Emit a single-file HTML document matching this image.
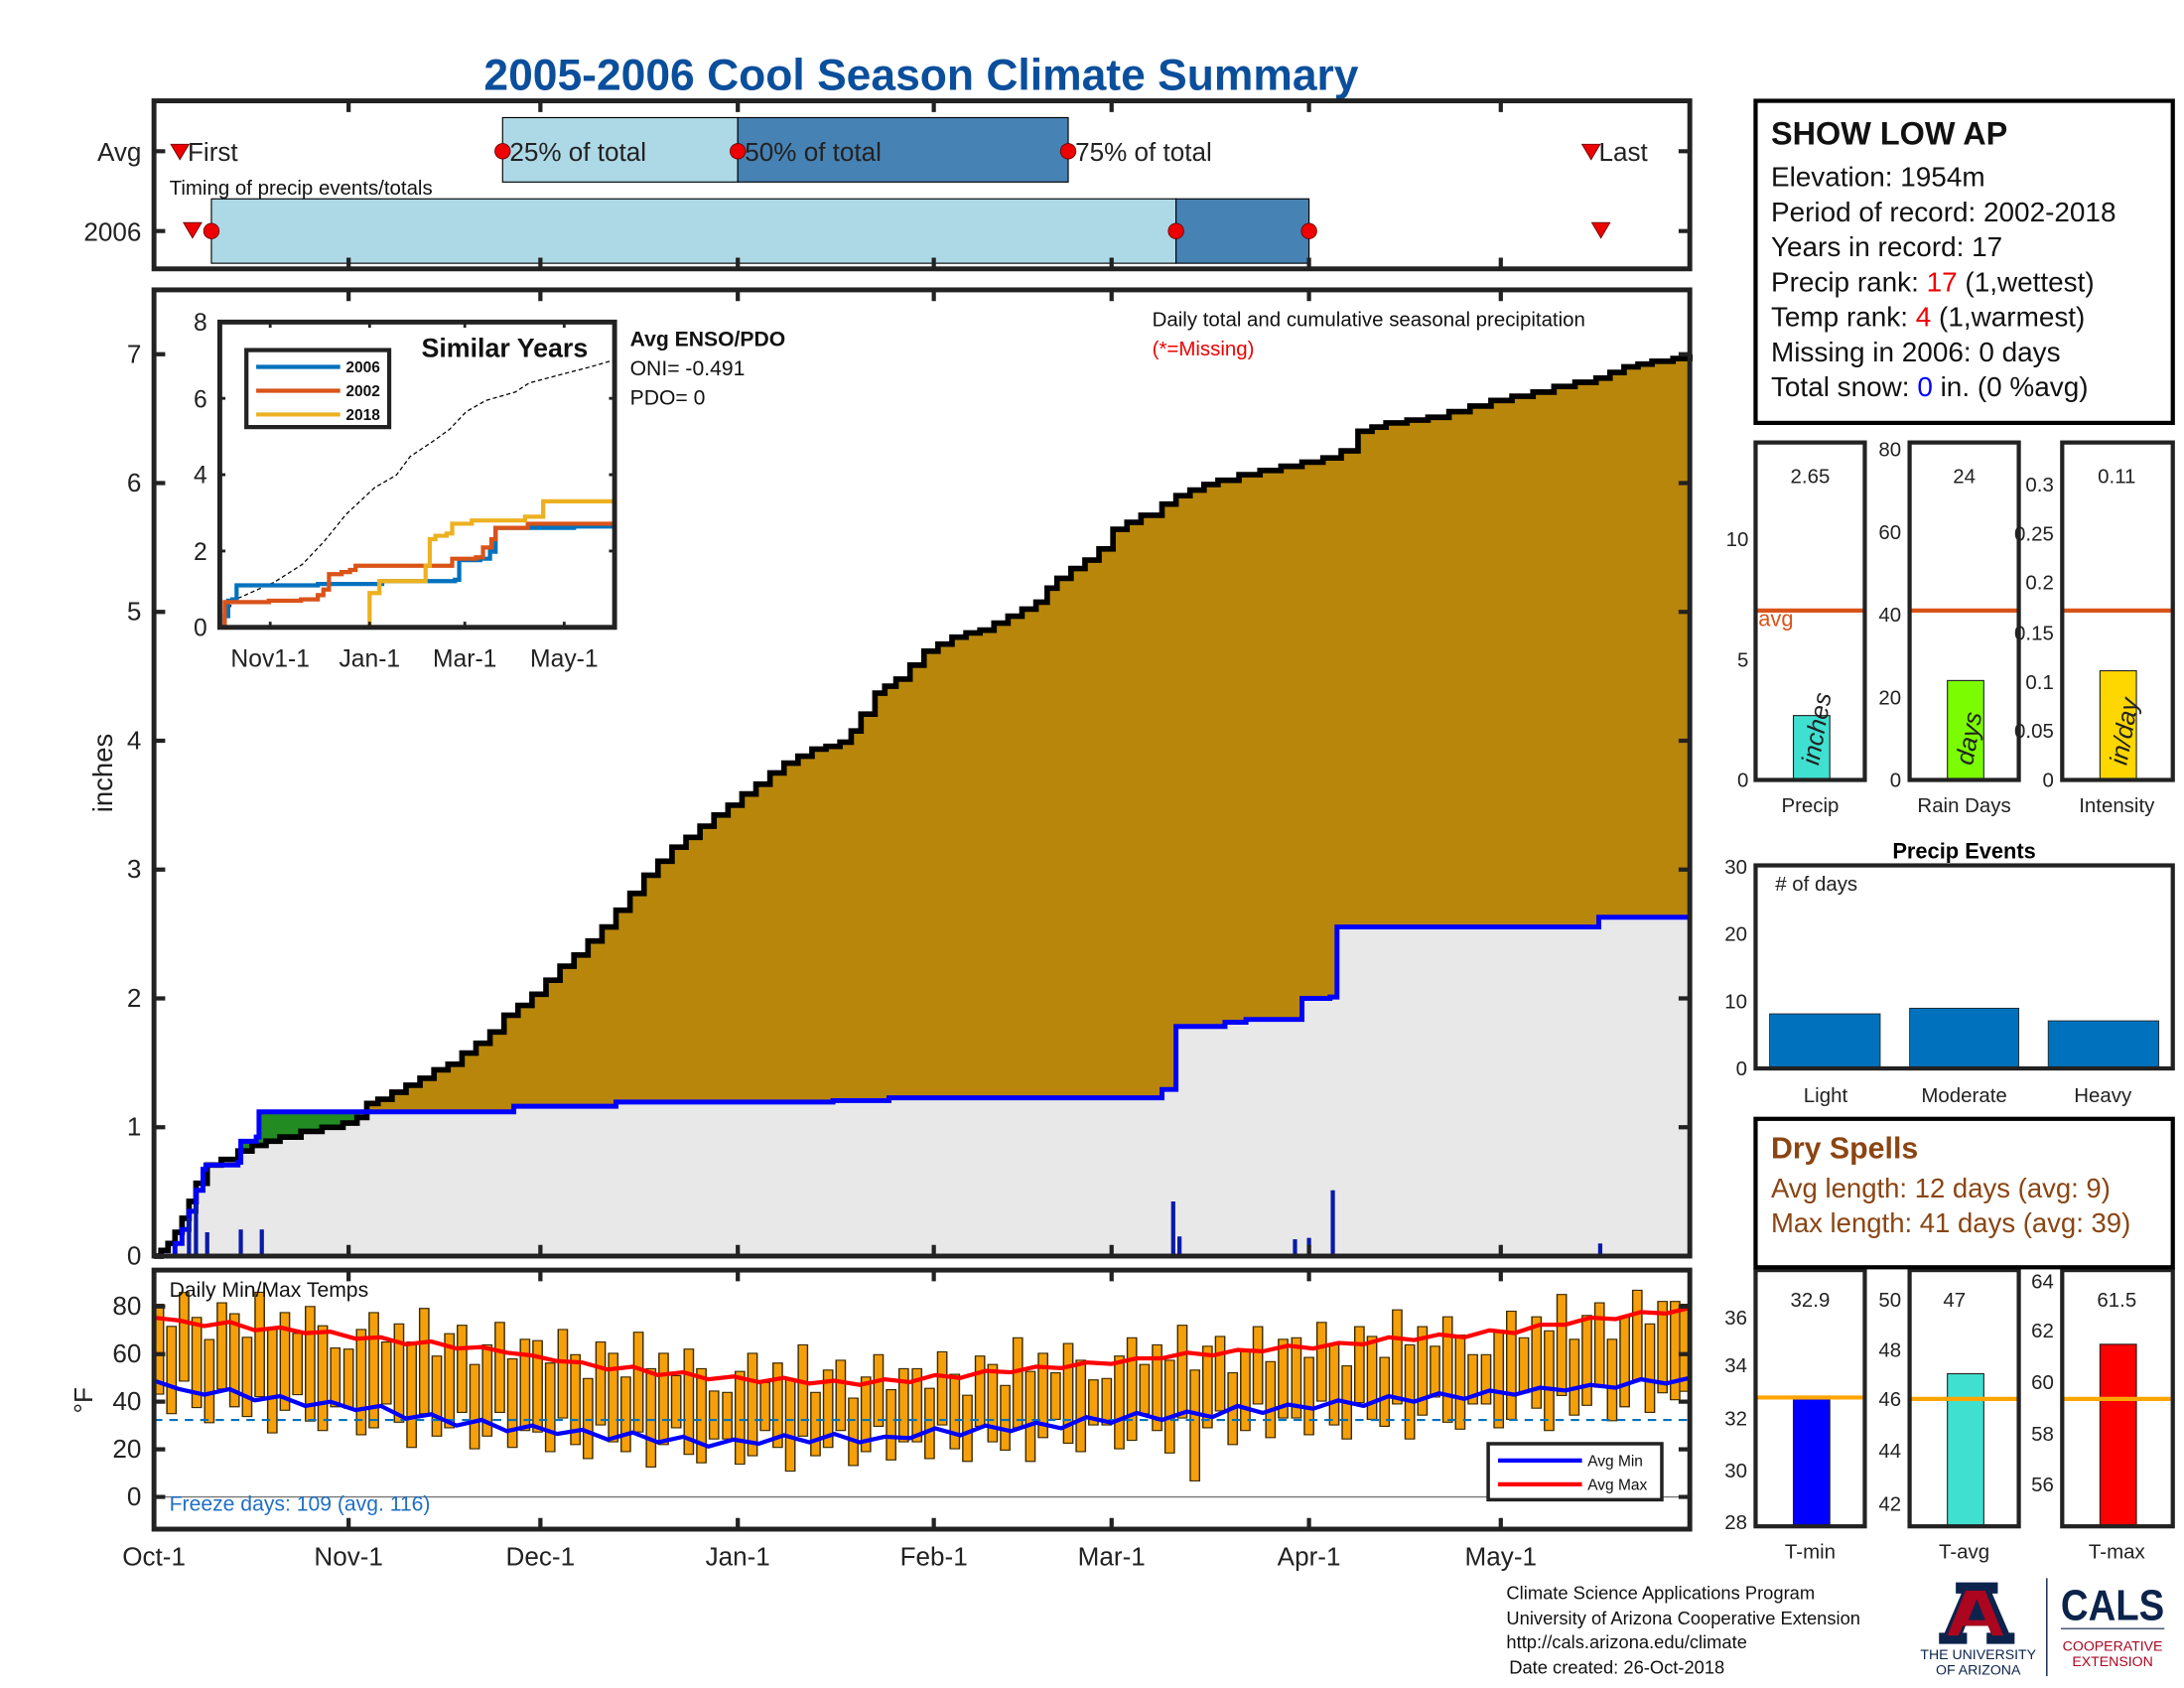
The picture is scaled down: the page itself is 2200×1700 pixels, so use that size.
<!DOCTYPE html>
<html><head><meta charset="utf-8"><style>
html,body{margin:0;padding:0;background:#fff;}
svg{display:block;font-family:"Liberation Sans",Arial,sans-serif;}
</style></head><body>
<svg width="2200" height="1700" viewBox="0 0 1560 1205.45" preserveAspectRatio="none" xmlns="http://www.w3.org/2000/svg">
<rect x="0" y="0" width="1560" height="1206" fill="#fff"/>
<text x="658" y="64" text-anchor="middle" font-size="31.5" font-weight="bold" fill="#0b4f9c">2005-2006 Cool Season Climate Summary</text>

<!-- timing panel -->
<rect x="359" y="84" width="168" height="46" fill="#add8e6" stroke="#000" stroke-width="0.8"/>
<rect x="527" y="84" width="236" height="46" fill="#4682b4" stroke="#000" stroke-width="0.8"/>
<rect x="151" y="142" width="689" height="46" fill="#add8e6" stroke="#000" stroke-width="0.8"/>
<rect x="840" y="142" width="95" height="46" fill="#4682b4" stroke="#000" stroke-width="0.8"/>
<g fill="#e00" stroke="#600" stroke-width="0.6">
<circle cx="359" cy="108" r="5.5"/><circle cx="527" cy="108" r="5.5"/><circle cx="763" cy="108" r="5.5"/>
<circle cx="151" cy="165" r="5.5"/><circle cx="840" cy="165" r="5.5"/><circle cx="935" cy="165" r="5.5"/>
<path d="M122,103 h13 l-6.5,11z M1130,103 h13 l-6.5,11z M131,159 h13 l-6.5,11z M1137,159 h13 l-6.5,11z"/>
</g>
<g font-size="18.5" fill="#222">
<text x="134" y="115">First</text><text x="364" y="115">25% of total</text><text x="532" y="115">50% of total</text><text x="768" y="115">75% of total</text><text x="1142" y="115">Last</text>
<text x="101" y="115" text-anchor="end">Avg</text><text x="101" y="172" text-anchor="end">2006</text>
</g>
<text x="121" y="139" font-size="14.5" fill="#111">Timing of precip events/totals</text>
<rect x="110" y="72" width="1097" height="120" fill="none" stroke="#222" stroke-width="3.5"/>

<!-- main plot fills -->
<path fill="#b8860b" d="M110,897 H115 V893 H120 V888 H125 V880 H130 V870 H135 V858 H140 V845 H148 V832 H158 V828 H170 V822 H180 V818 H190 V815 H200 V812 H215 V808 H230 V805 H245 V802 H255 V798 H262 V788 H270 V785 H280 V780 H290 V775 H300 V770 H310 V764 H320 V760 H330 V752 H340 V745 H350 V737 H360 V725 H370 V718 H380 V710 H390 V700 H400 V690 H410 V682 H420 V672 H430 V662 H440 V650 H450 V638 H460 V625 H470 V615 H480 V605 H490 V598 H500 V590 H510 V582 H520 V575 H530 V567 H540 V560 H550 V552 H560 V545 H570 V540 H580 V535 H590 V533 H600 V530 H608 V522 H615 V510 H625 V495 H632 V490 H640 V485 H650 V475 H660 V465 H670 V460 H680 V455 H690 V452 H700 V450 H710 V445 H720 V440 H730 V435 H740 V430 H748 V420 H755 V413 H765 V406 H775 V400 H785 V392 H795 V378 H805 V373 H815 V368 H830 V360 H840 V354 H850 V350 H860 V346 H870 V343 H885 V339 H900 V336 H915 V333 H930 V330 H945 V327 H958 V322 H970 V308 H980 V305 H990 V302 H1005 V300 H1020 V298 H1035 V294 H1050 V290 H1065 V286 H1080 V283 H1095 V280 H1110 V276 H1125 V273 H1140 V270 H1150 V266 H1160 V262 H1170 V260 H1180 V258 H1195 V256 H1207 V253 V897 Z"/>
<path fill="#228b22" d="M110,897 H125 V888 H130 V878 H135 V865 H140 V850 H145 V835 H147 V832 H170 V830 H172 V815 H183 V812 H185 V794 H365 V897 Z"/>
<path fill="#e8e8e8" d="M110,897 H115 V893 H120 V888 H125 V880 H130 V870 H135 V858 H140 V845 H148 V832 H158 V828 H170 V822 H180 V818 H190 V815 H200 V812 H215 V808 H230 V805 H245 V802 H255 V798 H262 V794 H367 V790 H440 V787 H595 V786 H635 V784 H830 V778 H840 V733 H875 V730 H890 V728 H930 V713 H950 V712 H955 V662 H1142 V655 H1207 V897 Z"/>
<path fill="none" stroke="#000" stroke-width="4" d="M110,897 H115 V893 H120 V888 H125 V880 H130 V870 H135 V858 H140 V845 H148 V832 H158 V828 H170 V822 H180 V818 H190 V815 H200 V812 H215 V808 H230 V805 H245 V802 H255 V798 H262 V788 H270 V785 H280 V780 H290 V775 H300 V770 H310 V764 H320 V760 H330 V752 H340 V745 H350 V737 H360 V725 H370 V718 H380 V710 H390 V700 H400 V690 H410 V682 H420 V672 H430 V662 H440 V650 H450 V638 H460 V625 H470 V615 H480 V605 H490 V598 H500 V590 H510 V582 H520 V575 H530 V567 H540 V560 H550 V552 H560 V545 H570 V540 H580 V535 H590 V533 H600 V530 H608 V522 H615 V510 H625 V495 H632 V490 H640 V485 H650 V475 H660 V465 H670 V460 H680 V455 H690 V452 H700 V450 H710 V445 H720 V440 H730 V435 H740 V430 H748 V420 H755 V413 H765 V406 H775 V400 H785 V392 H795 V378 H805 V373 H815 V368 H830 V360 H840 V354 H850 V350 H860 V346 H870 V343 H885 V339 H900 V336 H915 V333 H930 V330 H945 V327 H958 V322 H970 V308 H980 V305 H990 V302 H1005 V300 H1020 V298 H1035 V294 H1050 V290 H1065 V286 H1080 V283 H1095 V280 H1110 V276 H1125 V273 H1140 V270 H1150 V266 H1160 V262 H1170 V260 H1180 V258 H1195 V256 H1207 V253"/>
<path fill="none" stroke="#00f" stroke-width="3.5" d="M110,897 H125 V888 H130 V878 H135 V865 H140 V850 H145 V835 H147 V832 H170 V830 H172 V815 H183 V812 H185 V794 H367 V790 H440 V787 H595 V786 H635 V784 H830 V778 H840 V733 H875 V730 H890 V728 H930 V713 H950 V712 H955 V662 H1142 V655 H1207"/>
<g fill="#0a1aa8">
<rect x="133.5" y="870" width="3" height="27"/><rect x="138.5" y="860" width="3" height="37"/><rect x="146.5" y="880" width="3" height="17"/><rect x="170.5" y="878" width="3" height="19"/><rect x="185.5" y="878" width="3" height="19"/><rect x="836.5" y="858" width="3" height="39"/><rect x="841" y="883" width="3" height="14"/><rect x="923.5" y="885" width="3" height="12"/><rect x="933.5" y="884" width="3" height="13"/><rect x="950.5" y="850" width="3" height="47"/><rect x="1141.5" y="888" width="3" height="9"/>
</g>
<rect x="110" y="207" width="1097" height="690" fill="none" stroke="#222" stroke-width="3.5"/>
<g stroke="#222" stroke-width="3">
<path d="M110,897h8M110,805h8M110,713h8M110,621h8M110,529h8M110,437h8M110,345h8M110,253h8 M1199,897h8M1199,805h8M1199,713h8M1199,621h8M1199,529h8M1199,437h8M1199,345h8M1199,253h8 M110,108h8M110,165h8M1199,108h8M1199,165h8"/>
<path d="M249,72v8M386,72v8M527,72v8M667,72v8M794,72v8M935,72v8M1072,72v8 M249,184v8M386,184v8M527,184v8M667,184v8M794,184v8M935,184v8M1072,184v8 M249,207v8M386,207v8M527,207v8M667,207v8M794,207v8M935,207v8M1072,207v8 M249,889v8M386,889v8M527,889v8M667,889v8M794,889v8M935,889v8M1072,889v8 M249,907v8M386,907v8M527,907v8M667,907v8M794,907v8M935,907v8M1072,907v8 M249,1084v8M386,1084v8M527,1084v8M667,1084v8M794,1084v8M935,1084v8M1072,1084v8"/>
</g>
<g font-size="18.5" fill="#222" text-anchor="end">
<text x="101" y="903">0</text><text x="101" y="811">1</text><text x="101" y="719">2</text><text x="101" y="627">3</text><text x="101" y="535">4</text><text x="101" y="443">5</text><text x="101" y="351">6</text><text x="101" y="259">7</text>
</g>
<g font-size="18.5" fill="#222" text-anchor="middle">
<text x="110" y="1118">Oct-1</text><text x="249" y="1118">Nov-1</text><text x="386" y="1118">Dec-1</text><text x="527" y="1118">Jan-1</text><text x="667" y="1118">Feb-1</text><text x="794" y="1118">Mar-1</text><text x="935" y="1118">Apr-1</text><text x="1072" y="1118">May-1</text>
</g>
<text x="80" y="552" text-anchor="middle" font-size="19.5" fill="#222" transform="rotate(-90 80 552)">inches</text>
<text x="823" y="233" font-size="14.5" fill="#111">Daily total and cumulative seasonal precipitation</text>
<text x="823" y="254" font-size="14.5" fill="#e00">(*=Missing)</text>
<text x="450" y="247" font-size="15" font-weight="bold" fill="#111">Avg ENSO/PDO</text>
<text x="450" y="268" font-size="15" fill="#111">ONI= -0.491</text>
<text x="450" y="289" font-size="15" fill="#111">PDO= 0</text>

<!-- inset -->
<rect x="157" y="230" width="282" height="218" fill="#fff"/>
<polyline fill="none" stroke="#000" stroke-width="0.9" stroke-dasharray="3,2" points="157,448 166.8,428.7 196,415.7 216,403 231.5,386.7 247,367.5 267.5,348.3 283,339.4 293,326 308.6,315.6 321,306.7 333,294 347,286 368,280 378,273.5 398.6,268 421.7,262 439,257"/>
<path fill="none" stroke="#0072bd" stroke-width="3" d="M157,448 H160.5 V440 H163 V429 H166 V428 H169 V418 H227 V417 H273 V415 H325 V414 H328 V400 H343 V399 H350 V394 H354 V377 H410 V376 H439"/>
<path fill="none" stroke="#d95319" stroke-width="3" d="M157,448 H160.5 V430 H192 V429 H215 V428 H227 V425 H231 V421 H235 V410 H244 V408.5 H250 V407 H254 V404 H323 V399 H340 V398 H345 V391 H351 V385 H354 V377 H377 V374 H439 V373"/>
<path fill="none" stroke="#edb120" stroke-width="3" d="M157,448 H264 V423.5 H271 V415 H304 V404 H307 V385 H311 V382.6 H319 V381 H323 V374 H337 V371.7 H375 V369 H388 V358 H439"/>
<rect x="157" y="230" width="282" height="218" fill="none" stroke="#222" stroke-width="3.5"/>
<g stroke="#222" stroke-width="2">
<path d="M157,448h4M157,393.5h4M157,339h4M157,284.5h4M157,230h4 M435,448h4M435,393.5h4M435,339h4M435,284.5h4M435,230h4 M193,448v-4M264,448v-4M332,448v-4M403,448v-4 M193,230v4M264,230v4M332,230v4M403,230v4"/>
</g>
<g font-size="17.5" fill="#222" text-anchor="end">
<text x="148" y="454">0</text><text x="148" y="400">2</text><text x="148" y="345">4</text><text x="148" y="291">6</text><text x="148" y="236">8</text>
</g>
<g font-size="17.5" fill="#222" text-anchor="middle">
<text x="193" y="476">Nov1-1</text><text x="264" y="476">Jan-1</text><text x="332" y="476">Mar-1</text><text x="403" y="476">May-1</text>
</g>
<text x="301" y="255" font-size="19" font-weight="bold" fill="#111">Similar Years</text>
<rect x="176" y="250" width="102" height="55" fill="#fff" stroke="#222" stroke-width="3"/>
<line x1="183" x2="243" y1="262" y2="262" stroke="#0072bd" stroke-width="3"/>
<line x1="183" x2="243" y1="279" y2="279" stroke="#d95319" stroke-width="3"/>
<line x1="183" x2="243" y1="296" y2="296" stroke="#edb120" stroke-width="3"/>
<g font-size="11" font-weight="bold" fill="#111"><text x="247" y="266">2006</text><text x="247" y="283">2002</text><text x="247" y="300">2018</text></g>

<!-- temps -->
<line x1="110" x2="1207" y1="1069" y2="1069" stroke="#777" stroke-width="1"/>
<g fill="none" stroke-linecap="butt">
<path stroke="#3a2a00" stroke-width="7.6" d="M113.5,931V996M122.5,946.8V1009.9M131.5,922.6V986.7M140.5,940.4V1005.6M149.5,956.2V1016.4M158.5,930V992.3M167.5,937.8V1005M176.5,954.6V1012M185.5,922.4V997.8M194.5,948.2V1023.7M203.5,937V1007.5M212.5,951.8V996.4M221.5,932.6V1015.2M230.5,946.4V1022M239.5,962.2V1005 M249,963V1006M258,949V1025M267,937V1020M276,958V1003M285,945V1016M294,958V1034M303,934V1010M312,968V1026M321,952V1020M330,946V1009M339,974V1035M348,960V1026M357,944V1009M366,970V1034M375,956V1022 M384,957V1023M393,973V1037M402,949V1013M411,967V1032M420,984V1042M429,958V1018M438,966V1030M447,983V1037M456,951V1023M465,977V1048M474,966V1032M483,982V1020M492,963V1039M501,977V1045M510,993V1028 M519.5,994V1028M528.5,979V1046M537.5,966V1040M546.5,987V1022M555.5,973V1034M564.5,985V1051M573.5,960V1026M582.5,994V1040M591.5,978V1034M600.5,971V1022M609.5,998V1047M618.5,983V1037M627.5,967V1019M636.5,992V1043M645.5,977V1030 M655,977V1030M664,991V1042M673,965V1018M682,981V1035M691,996V1044M700,968V1019M709,974V1030M718,989V1036M727,955V1020M736,979V1044M745,966V1027M754,980V1014M763,959V1031M772,971V1037M781,985V1018 M790.5,984V1018M799.5,968V1035M808.5,955V1029M817.5,974V1010M826.5,960V1022M835.5,971V1038M844.5,946V1013M853.5,978V1058M862.5,961V1020M871.5,954V1008M880.5,980V1032M889.5,965V1022M898.5,947V1003M907.5,972V1027M916.5,956V1013 M926,955V1013M935,969V1025M944,944V1001M953,960V1018M962,975V1028M971,947V1002M980,954V1014M989,969V1019M998,935V1003M1007,960V1028M1016,947V1011M1025,961V998M1034,940V1016M1043,953V1021M1052,967V1003 M1061.5,967V1003M1070.5,951V1020M1079.5,936V1014M1088.5,955V995M1097.5,940V1006M1106.5,950V1022M1115.5,924V997M1124.5,956V1011M1133.5,939V1004M1142.5,930V991M1151.5,956V1015M1160.5,940V1005M1169.5,921V986M1178.5,945V1009M1187.5,929V995M1196.5,929V1000M1203,931V994"/>
<path stroke="#f5a00a" stroke-width="5.6" d="M113.5,931.8V995.2M122.5,947.6V1009.1M131.5,923.4V985.9M140.5,941.2V1004.8M149.5,957V1015.6M158.5,930.8V991.5M167.5,938.6V1004.2M176.5,955.4V1011.2M185.5,923.2V997M194.5,949V1022.9M203.5,937.8V1006.7M212.5,952.6V995.6M221.5,933.4V1014.4M230.5,947.2V1021.2M239.5,963V1004.2 M249,963.8V1005.2M258,949.8V1024.2M267,937.8V1019.2M276,958.8V1002.2M285,945.8V1015.2M294,958.8V1033.2M303,934.8V1009.2M312,968.8V1025.2M321,952.8V1019.2M330,946.8V1008.2M339,974.8V1034.2M348,960.8V1025.2M357,944.8V1008.2M366,970.8V1033.2M375,956.8V1021.2 M384,957.8V1022.2M393,973.8V1036.2M402,949.8V1012.2M411,967.8V1031.2M420,984.8V1041.2M429,958.8V1017.2M438,966.8V1029.2M447,983.8V1036.2M456,951.8V1022.2M465,977.8V1047.2M474,966.8V1031.2M483,982.8V1019.2M492,963.8V1038.2M501,977.8V1044.2M510,993.8V1027.2 M519.5,994.8V1027.2M528.5,979.8V1045.2M537.5,966.8V1039.2M546.5,987.8V1021.2M555.5,973.8V1033.2M564.5,985.8V1050.2M573.5,960.8V1025.2M582.5,994.8V1039.2M591.5,978.8V1033.2M600.5,971.8V1021.2M609.5,998.8V1046.2M618.5,983.8V1036.2M627.5,967.8V1018.2M636.5,992.8V1042.2M645.5,977.8V1029.2 M655,977.8V1029.2M664,991.8V1041.2M673,965.8V1017.2M682,981.8V1034.2M691,996.8V1043.2M700,968.8V1018.2M709,974.8V1029.2M718,989.8V1035.2M727,955.8V1019.2M736,979.8V1043.2M745,966.8V1026.2M754,980.8V1013.2M763,959.8V1030.2M772,971.8V1036.2M781,985.8V1017.2 M790.5,984.8V1017.2M799.5,968.8V1034.2M808.5,955.8V1028.2M817.5,974.8V1009.2M826.5,960.8V1021.2M835.5,971.8V1037.2M844.5,946.8V1012.2M853.5,978.8V1057.2M862.5,961.8V1019.2M871.5,954.8V1007.2M880.5,980.8V1031.2M889.5,965.8V1021.2M898.5,947.8V1002.2M907.5,972.8V1026.2M916.5,956.8V1012.2 M926,955.8V1012.2M935,969.8V1024.2M944,944.8V1000.2M953,960.8V1017.2M962,975.8V1027.2M971,947.8V1001.2M980,954.8V1013.2M989,969.8V1018.2M998,935.8V1002.2M1007,960.8V1027.2M1016,947.8V1010.2M1025,961.8V997.2M1034,940.8V1015.2M1043,953.8V1020.2M1052,967.8V1002.2 M1061.5,967.8V1002.2M1070.5,951.8V1019.2M1079.5,936.8V1013.2M1088.5,955.8V994.2M1097.5,940.8V1005.2M1106.5,950.8V1021.2M1115.5,924.8V996.2M1124.5,956.8V1010.2M1133.5,939.8V1003.2M1142.5,930.8V990.2M1151.5,956.8V1014.2M1160.5,940.8V1004.2M1169.5,921.8V985.2M1178.5,945.8V1008.2M1187.5,929.8V994.2M1196.5,929.8V999.2M1203,931.8V993.2"/>
</g>
<line x1="110" x2="1207" y1="1014" y2="1014" stroke="#0072bd" stroke-width="1.5" stroke-dasharray="6,5"/>
<polyline fill="none" stroke="#f00" stroke-width="3" points="110,941 128,943 146,947 164,944 182,950 200,948 218,952 236,951 254,956 272,955 290,960 308,958 326,963 344,962 362,966 380,968 398,972 416,973 434,978 452,976 470,982 488,980 506,985 524,983 542,987 560,984 578,988 596,986 614,989 632,985 650,987 668,982 686,984 704,979 722,980 740,976 758,977 776,973 794,974 812,970 830,970 848,966 866,968 884,964 902,965 920,961 938,963 956,959 974,960 992,955 1010,957 1028,953 1046,955 1064,950 1082,952 1100,946 1118,946 1136,941 1154,942 1172,937 1190,938 1207,934"/>
<polyline fill="none" stroke="#00f" stroke-width="3" points="110,986 128,992 146,996 164,992 182,1000 200,997 218,1004 236,1001 254,1007 272,1004 290,1013 308,1010 326,1018 344,1014 362,1022 380,1018 398,1024 416,1021 434,1028 452,1023 470,1030 488,1026 506,1033 524,1028 542,1031 560,1025 578,1030 596,1024 614,1030 632,1026 650,1027 668,1020 686,1025 704,1018 722,1022 740,1016 758,1020 776,1012 794,1016 812,1009 830,1014 848,1008 866,1012 884,1004 902,1009 920,1003 938,1006 956,1000 974,1004 992,997 1010,1001 1028,995 1046,999 1064,993 1082,996 1100,991 1118,993 1136,989 1154,991 1172,985 1190,988 1207,984"/>
<rect x="1063" y="1031" width="124" height="40" fill="#fff" stroke="#222" stroke-width="2.5"/>
<line x1="1070" x2="1130" y1="1043" y2="1043" stroke="#00f" stroke-width="3"/>
<line x1="1070" x2="1130" y1="1060" y2="1060" stroke="#f00" stroke-width="3"/>
<text x="1134" y="1047" font-size="11" fill="#111">Avg Min</text>
<text x="1134" y="1064" font-size="11" fill="#111">Avg Max</text>
<text x="121" y="926" font-size="15" fill="#111">Daily Min/Max Temps</text>
<text x="121" y="1079" font-size="15" fill="#1f6fc4">Freeze days: 109 (avg. 116)</text>
<rect x="110" y="907" width="1097" height="185" fill="none" stroke="#222" stroke-width="3.5"/>
<g stroke="#222" stroke-width="3"><path d="M110,1069h8M110,1035h8M110,1001h8M110,967h8M110,933h8M1199,1069h8M1199,1035h8M1199,1001h8M1199,967h8M1199,933h8"/></g>
<g font-size="18.5" fill="#222" text-anchor="end">
<text x="101" y="1075">0</text><text x="101" y="1041">20</text><text x="101" y="1007">40</text><text x="101" y="973">60</text><text x="101" y="939">80</text>
</g>
<text x="66" y="1000" text-anchor="middle" font-size="18.5" fill="#222" transform="rotate(-90 66 1000)">°F</text>

<!-- info box -->
<rect x="1254" y="72" width="298" height="230" fill="#fff" stroke="#000" stroke-width="3"/>
<g font-size="19.8" fill="#111">
<text x="1265" y="103" font-size="23" font-weight="bold">SHOW LOW AP</text>
<text x="1265" y="133">Elevation: 1954m</text>
<text x="1265" y="158">Period of record: 2002-2018</text>
<text x="1265" y="183">Years in record: 17</text>
<text x="1265" y="208">Precip rank: <tspan fill="#e00">17</tspan> (1,wettest)</text>
<text x="1265" y="233">Temp rank: <tspan fill="#e00">4</tspan> (1,warmest)</text>
<text x="1265" y="258">Missing in 2006: 0 days</text>
<text x="1265" y="283">Total snow: <tspan fill="#00f">0</tspan> in. (0 %avg)</text>
</g>

<!-- small panels -->
<g font-size="14.5" fill="#222">
<rect x="1281" y="511" width="26" height="46" fill="#40e0d0" stroke="#222" stroke-width="0.8"/>
<line x1="1254" x2="1332" y1="436" y2="436" stroke="#d95319" stroke-width="3"/>
<rect x="1254" y="316" width="78" height="241" fill="none" stroke="#222" stroke-width="3"/>
<text x="1249" y="562" text-anchor="end">0</text><text x="1249" y="476" text-anchor="end">5</text><text x="1249" y="390" text-anchor="end">10</text>
<text x="1293" y="345" text-anchor="middle">2.65</text><text x="1293" y="580" text-anchor="middle">Precip</text>
<text x="1256" y="447" fill="#d95319" font-size="15.5">avg</text>
<text x="1299" y="547" font-size="18" font-style="italic" transform="rotate(-80 1299 547)">inches</text>

<rect x="1391" y="486" width="26" height="71" fill="#7cfc00" stroke="#222" stroke-width="0.8"/>
<line x1="1364" x2="1442" y1="436" y2="436" stroke="#d95319" stroke-width="3"/>
<rect x="1364" y="316" width="78" height="241" fill="none" stroke="#222" stroke-width="3"/>
<text x="1358" y="562" text-anchor="end">0</text><text x="1358" y="503" text-anchor="end">20</text><text x="1358" y="444" text-anchor="end">40</text><text x="1358" y="385" text-anchor="end">60</text><text x="1358" y="326" text-anchor="end">80</text>
<text x="1403" y="345" text-anchor="middle">24</text><text x="1403" y="580" text-anchor="middle">Rain Days</text>
<text x="1409" y="547" font-size="18" font-style="italic" transform="rotate(-80 1409 547)">days</text>

<rect x="1500" y="479" width="26" height="78" fill="#ffd700" stroke="#222" stroke-width="0.8"/>
<line x1="1473" x2="1552" y1="436" y2="436" stroke="#d95319" stroke-width="3"/>
<rect x="1473" y="316" width="79" height="241" fill="none" stroke="#222" stroke-width="3"/>
<text x="1467" y="562" text-anchor="end">0</text><text x="1467" y="527" text-anchor="end">0.05</text><text x="1467" y="492" text-anchor="end">0.1</text><text x="1467" y="457" text-anchor="end">0.15</text><text x="1467" y="421" text-anchor="end">0.2</text><text x="1467" y="386" text-anchor="end">0.25</text><text x="1467" y="351" text-anchor="end">0.3</text>
<text x="1512" y="345" text-anchor="middle">0.11</text><text x="1512" y="580" text-anchor="middle">Intensity</text>
<text x="1519" y="547" font-size="18" font-style="italic" transform="rotate(-80 1519 547)">in/day</text>

<!-- temp bars -->
<rect x="1281" y="997" width="26" height="93" fill="#0000ff" stroke="#222" stroke-width="0.8"/>
<line x1="1254" x2="1332" y1="998" y2="998" stroke="#ffa500" stroke-width="3"/>
<rect x="1254" y="907" width="78" height="183" fill="none" stroke="#222" stroke-width="3"/>
<text x="1248" y="1092" text-anchor="end">28</text><text x="1248" y="1055" text-anchor="end">30</text><text x="1248" y="1018" text-anchor="end">32</text><text x="1248" y="980" text-anchor="end">34</text><text x="1248" y="946" text-anchor="end">36</text>
<text x="1293" y="933" text-anchor="middle">32.9</text><text x="1293" y="1113" text-anchor="middle">T-min</text>

<rect x="1391" y="981" width="26" height="109" fill="#40e0d0" stroke="#222" stroke-width="0.8"/>
<line x1="1364" x2="1442" y1="999" y2="999" stroke="#ffa500" stroke-width="3"/>
<rect x="1364" y="907" width="78" height="183" fill="none" stroke="#222" stroke-width="3"/>
<text x="1358" y="1079" text-anchor="end">42</text><text x="1358" y="1041" text-anchor="end">44</text><text x="1358" y="1004" text-anchor="end">46</text><text x="1358" y="969" text-anchor="end">48</text><text x="1358" y="933" text-anchor="end">50</text>
<text x="1396" y="933" text-anchor="middle">47</text><text x="1403" y="1113" text-anchor="middle">T-avg</text>

<rect x="1500" y="960" width="26" height="130" fill="#ff0000" stroke="#222" stroke-width="0.8"/>
<line x1="1473" x2="1552" y1="999" y2="999" stroke="#ffa500" stroke-width="3"/>
<rect x="1473" y="907" width="79" height="183" fill="none" stroke="#222" stroke-width="3"/>
<text x="1467" y="1065" text-anchor="end">56</text><text x="1467" y="1029" text-anchor="end">58</text><text x="1467" y="992" text-anchor="end">60</text><text x="1467" y="955" text-anchor="end">62</text><text x="1467" y="920" text-anchor="end">64</text>
<text x="1512" y="933" text-anchor="middle">61.5</text><text x="1512" y="1113" text-anchor="middle">T-max</text>
</g>

<!-- precip events -->
<text x="1403" y="613" text-anchor="middle" font-size="15.5" font-weight="bold">Precip Events</text>
<rect x="1264" y="724" width="79" height="39" fill="#0072bd" stroke="#222" stroke-width="0.6"/>
<rect x="1364" y="720" width="78" height="43" fill="#0072bd" stroke="#222" stroke-width="0.6"/>
<rect x="1463" y="729" width="79" height="34" fill="#0072bd" stroke="#222" stroke-width="0.6"/>
<rect x="1254" y="618" width="298" height="145" fill="none" stroke="#222" stroke-width="3"/>
<g font-size="14.5" fill="#222">
<text x="1268" y="636"># of days</text>
<text x="1248" y="768" text-anchor="end">0</text><text x="1248" y="720" text-anchor="end">10</text><text x="1248" y="672" text-anchor="end">20</text><text x="1248" y="624" text-anchor="end">30</text>
<text x="1304" y="787" text-anchor="middle">Light</text><text x="1403" y="787" text-anchor="middle">Moderate</text><text x="1502" y="787" text-anchor="middle">Heavy</text>
</g>

<!-- dry spells -->
<rect x="1254" y="799" width="298" height="106" fill="#fff" stroke="#000" stroke-width="3"/>
<g fill="#8b4513" font-size="19.5">
<text x="1265" y="827" font-size="21.5" font-weight="bold">Dry Spells</text>
<text x="1265" y="855">Avg length: 12 days (avg: 9)</text>
<text x="1265" y="880">Max length: 41 days (avg: 39)</text>
</g>

<!-- footer -->
<g font-size="13" fill="#111">
<text x="1076" y="1142">Climate Science Applications Program</text>
<text x="1076" y="1160">University of Arizona Cooperative Extension</text>
<text x="1076" y="1177">http://cals.arizona.edu/climate</text>
<text x="1078" y="1195">Date created: 26-Oct-2018</text>
</g>
<path d="M1397,1130 h30 v8 h-4 l12,28 h4 v8 h-20 v-8 h3 l-2,-5 h-16 l-2,5 h3 v8 h-20 v-8 h4 l12,-28 h-4z" fill="#0c234b"/>
<path d="M1404,1136 h14 l13,32 h-8 l-3,-7 h-18 l-3,7 h-8z M1406,1157 h12 l-6,-15z" fill="#ab0520" fill-rule="evenodd"/>
<text x="1413" y="1185" text-anchor="middle" font-size="10" fill="#0c234b">THE UNIVERSITY</text>
<text x="1413" y="1196" text-anchor="middle" font-size="10" fill="#0c234b">OF ARIZONA</text>
<line x1="1462" y1="1127" x2="1462" y2="1197" stroke="#0c234b" stroke-width="1"/>
<text x="1509" y="1157" text-anchor="middle" font-size="31" font-weight="bold" fill="#0c234b" textLength="74" lengthAdjust="spacingAndGlyphs">CALS</text>
<line x1="1472" y1="1163" x2="1546" y2="1163" stroke="#0c234b" stroke-width="0.8"/>
<text x="1509" y="1179" text-anchor="middle" font-size="10" fill="#ab0520">COOPERATIVE</text>
<text x="1509" y="1190" text-anchor="middle" font-size="10" fill="#ab0520">EXTENSION</text>
</svg>
</body></html>
